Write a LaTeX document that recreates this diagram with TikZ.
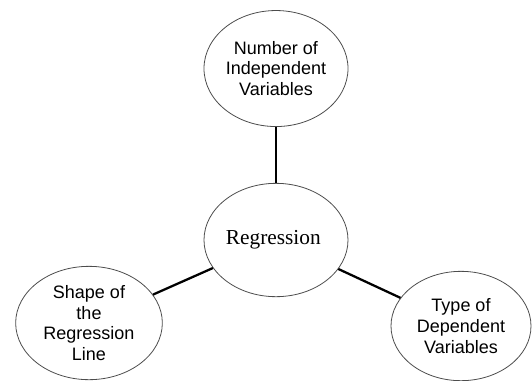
\documentclass[tikz,border=0pt]{standalone}
\usepackage{fontspec}
\setmainfont{Liberation Serif}
\setsansfont{Liberation Sans}
\usetikzlibrary{positioning, shapes.geometric}
\newcommand{\linkwidth}{1.7pt}
\newcommand{\bubblefont}{\sffamily\fontsize{13.5}{15.6}\selectfont}

\begin{document}
\begin{tikzpicture}[x=0.75pt, y=-0.75pt,
    bubble/.style={ellipse, draw=black!70, line width=0.6pt, inner sep=0pt,
        align=center, minimum width=108pt, minimum height=85pt, font=\bubblefont},
    link/.style={line width=\linkwidth}]
            \useasboundingbox (0,0) rectangle (532,380);
            \node[bubble, font=\rmfamily\fontsize{16}{18}\selectfont] (reg) at (276,240) { Regression };
            \node[bubble, above=42pt of reg, minimum height=87pt] (num) { Number of\\Independent\\Variables };
            \node[bubble, inner ysep=-6pt, minimum width=110pt] (shape) at (89,323) { Shape of\\the\\Regression\\Line };
            \node[bubble, minimum width=105pt, minimum height=82pt] (type) at (461,326) { Type of\\Dependent\\Variables };
            \draw[link] (reg) -- (num);
            \draw[link] (reg) -- (shape);
            \draw[link] (reg) -- (type);
        \end{tikzpicture}
\end{document}
